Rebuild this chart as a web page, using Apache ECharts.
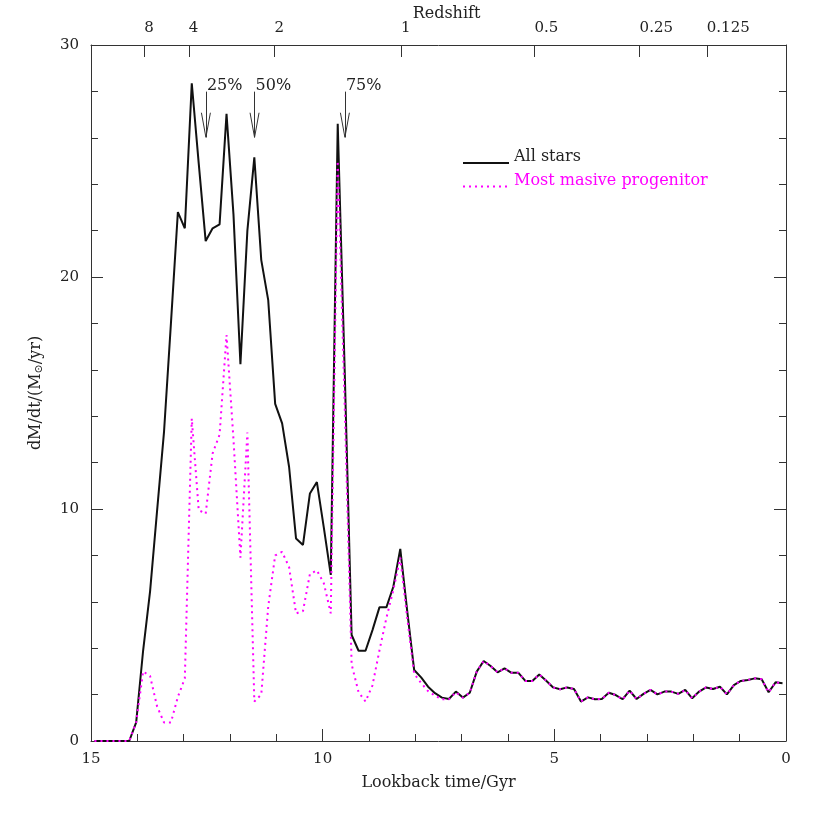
<!DOCTYPE html>
<html>
<head>
<meta charset="utf-8">
<script src="https://cdn.jsdelivr.net/npm/echarts@6/dist/echarts.min.js"></script>
<style>
html, body { margin: 0; padding: 0; background: #fff; }
#main { width: 830px; height: 830px; }
</style>
</head>
<body>
<div id="main"></div>
<script>
// lookback time of each sample (Gyr)
var times = [
    14.925, 14.775, 14.625, 14.475, 14.325, 14.175, 14.025, 13.875, 13.725, 13.575,
    13.425, 13.275, 13.125, 12.975, 12.825, 12.675, 12.525, 12.375, 12.225, 12.075,
    11.925, 11.775, 11.625, 11.475, 11.325, 11.175, 11.025, 10.875, 10.725, 10.575,
    10.425, 10.275, 10.125, 9.975, 9.825, 9.675, 9.525, 9.375, 9.225, 9.075,
    8.925, 8.775, 8.625, 8.475, 8.325, 8.175, 8.025, 7.875, 7.725, 7.575,
    7.425, 7.275, 7.125, 6.975, 6.825, 6.675, 6.525, 6.375, 6.225, 6.075,
    5.925, 5.775, 5.625, 5.475, 5.325, 5.175, 5.025, 4.875, 4.725, 4.575,
    4.425, 4.275, 4.125, 3.975, 3.825, 3.675, 3.525, 3.375, 3.225, 3.075,
    2.925, 2.775, 2.625, 2.475, 2.325, 2.175, 2.025, 1.875, 1.725, 1.575,
    1.425, 1.275, 1.125, 0.975, 0.825, 0.675, 0.525, 0.375, 0.225, 0.075
];

var allStars = [
    0, 0, 0, 0, 0, 0, 0.8, 3.9, 6.45, 9.9,
    13.3, 18.0, 22.8, 22.1, 28.35, 24.9, 21.55, 22.1, 22.27, 27.03,
    22.7, 16.24, 22.0, 25.16, 20.73, 19.0, 14.53, 13.69, 11.82, 8.73,
    8.45, 10.67, 11.16, 9.2, 7.16, 26.6, 16.0, 4.57, 3.89, 3.89,
    4.78, 5.76, 5.76, 6.65, 8.28, 5.6, 3.06, 2.74, 2.34, 2.06,
    1.87, 1.81, 2.13, 1.87, 2.08, 2.99, 3.45, 3.23, 2.96, 3.13,
    2.94, 2.94, 2.59, 2.59, 2.87, 2.6, 2.31, 2.23, 2.31, 2.24,
    1.70, 1.88, 1.80, 1.81, 2.08, 1.98, 1.80, 2.17, 1.81, 2.03,
    2.20, 2.01, 2.13, 2.13, 2.03, 2.20, 1.84, 2.13, 2.31, 2.24,
    2.34, 2.01, 2.41, 2.59, 2.63, 2.70, 2.66, 2.10, 2.53, 2.49
];

var mainProgenitor = [
    0, 0, 0, 0, 0, 0, 0.8, 3.0, 2.8, 1.5,
    0.8, 0.8, 1.9, 2.7, 13.9, 9.95, 9.8, 12.4, 13.2, 17.5,
    13.0, 7.9, 13.3, 1.7, 2.0, 5.8, 8.0, 8.15, 7.5, 5.5,
    5.6, 7.2, 7.35, 6.8, 5.5, 25.0, 14.5, 3.3, 2.1, 1.7,
    2.4, 3.9, 5.3, 6.5, 7.9, 5.3, 2.9, 2.5, 2.15, 1.95,
    1.8, 1.8, 2.1, 1.87, 2.08, 2.99, 3.45, 3.23, 2.96, 3.13,
    2.94, 2.94, 2.59, 2.59, 2.87, 2.6, 2.31, 2.23, 2.31, 2.24,
    1.70, 1.88, 1.80, 1.81, 2.08, 1.98, 1.80, 2.17, 1.81, 2.03,
    2.20, 2.01, 2.13, 2.13, 2.03, 2.20, 1.84, 2.13, 2.31, 2.24,
    2.34, 2.01, 2.41, 2.59, 2.63, 2.70, 2.66, 2.10, 2.53, 2.49
];

// redshift ticks on the top axis, placed at their lookback time
var redshiftLabels = ['8', '4', '2', '1', '0.5', '0.25', '0.125'];
var redshiftTimes = [13.85, 12.89, 11.04, 8.31, 5.43, 3.16, 1.71];

// times where 25/50/75% of the mass had formed
var arrowLabels = ['25%', '50%', '75%'];
var arrowTimes = [12.52, 11.47, 9.52];
var arrowTop = 27.99, arrowTip = 26.02, arrowHeadTop = 27.08, arrowHeadHalf = 0.097;

var FONT = 'DejaVu Serif';
var INK = '#222';

function pairs(ys) {
    return times.map(function (t, i) { return [t, ys[i]]; });
}

var arrowLines = [];
var arrowPoints = [];
arrowTimes.forEach(function (t, i) {
    arrowLines.push([{ coord: [t, arrowTop] }, { coord: [t, arrowTip] }]);
    arrowLines.push([{ coord: [t + arrowHeadHalf, arrowHeadTop] }, { coord: [t, arrowTip] }]);
    arrowLines.push([{ coord: [t - arrowHeadHalf, arrowHeadTop] }, { coord: [t, arrowTip] }]);
    arrowPoints.push({ coord: [t, arrowTop], value: arrowLabels[i] });
});

var tickCommon = { inside: true, length: 12, lineStyle: { color: '#333', width: 1 } };
var minorCommon = { show: true, splitNumber: 5, length: 7, lineStyle: { color: '#333', width: 1 } };
var lineCommon = { show: true, onZero: false, lineStyle: { color: '#333', width: 1 } };
var labelCommon = { color: INK, fontFamily: FONT, fontSize: 15 };

var myChart = echarts.init(document.getElementById('main'), null, { renderer: 'canvas' });

myChart.setOption({
    animation: false,
    backgroundColor: '#fff',
    grid: {
        left: 91, right: 44, top: 45, bottom: 89,
        outerBoundsMode: 'none'
    },
    legend: {
        orient: 'vertical',
        left: 462,
        top: 149,
        padding: 0,
        itemWidth: 46,
        itemHeight: 14,
        itemGap: 4,
        selectedMode: false,
        itemStyle: { opacity: 0 },
        formatter: function (name) { return '{t|' + name + '}'; },
        textStyle: {
            fontFamily: FONT, fontSize: 16, color: INK,
            rich: { t: { fontFamily: FONT, fontSize: 16, padding: [0, 0, 12, 0] } }
        },
        data: [
            { name: 'All stars', textStyle: { color: INK } },
            { name: 'Most masive progenitor', textStyle: { color: '#ff00ff' } }
        ]
    },
    xAxis: [{
        type: 'value',
        min: 0, max: 15, interval: 5,
        inverse: true,
        name: 'Lookback time/Gyr',
        nameLocation: 'middle',
        nameGap: 34,
        nameTextStyle: { color: INK, fontFamily: FONT, fontSize: 16 },
        axisLine: lineCommon,
        axisTick: tickCommon,
        minorTick: minorCommon,
        axisLabel: Object.assign({ margin: 11 }, labelCommon),
        splitLine: { show: false }
    }, {
        type: 'value',
        position: 'top',
        min: 0, max: 15,
        inverse: true,
        name: 'Redshift',
        nameLocation: 'middle',
        nameGap: 23,
        nameMoveOverlap: false,
        nameTextStyle: { color: INK, fontFamily: FONT, fontSize: 16, padding: [0, 0, 0, 16] },
        axisLine: lineCommon,
        axisTick: Object.assign({ customValues: redshiftTimes }, tickCommon),
        axisLabel: Object.assign({
            customValues: redshiftTimes,
            align: 'left',
            margin: 9,
            formatter: function (v) {
                var i = redshiftTimes.indexOf(v);
                return i >= 0 ? redshiftLabels[i] : '';
            }
        }, labelCommon),
        splitLine: { show: false }
    }],
    yAxis: [{
        type: 'value',
        min: 0, max: 30, interval: 10,
        name: 'dM/dt/(M{sub|⊙}/yr)',
        nameLocation: 'middle',
        nameGap: 47,
        nameRotate: 90,
        nameTextStyle: {
            color: INK, fontFamily: FONT, fontSize: 16,
            rich: {
                sub: { fontFamily: FONT, fontSize: 11, color: INK, padding: [0, 0, -6, 0] }
            }
        },
        axisLine: lineCommon,
        axisTick: tickCommon,
        minorTick: minorCommon,
        axisLabel: Object.assign({ margin: 12 }, labelCommon),
        splitLine: { show: false }
    }, {
        type: 'value',
        position: 'right',
        min: 0, max: 30, interval: 10,
        axisLine: lineCommon,
        axisTick: tickCommon,
        minorTick: minorCommon,
        axisLabel: { show: false },
        splitLine: { show: false }
    }],
    series: [{
        name: 'All stars',
        type: 'line',
        data: pairs(allStars),
        symbol: 'none',
        lineStyle: { color: '#111', width: 2 },
        itemStyle: { color: '#111' },
        z: 3,
        markLine: {
            silent: true,
            symbol: ['none', 'none'],
            label: { show: false },
            lineStyle: { color: '#333', width: 1, type: 'solid' },
            emphasis: { disabled: true },
            data: arrowLines
        },
        markPoint: {
            silent: true,
            symbolSize: 0,
            label: {
                show: true,
                position: 'right',
                distance: 0,
                offset: [1, -6],
                formatter: '{c}',
                color: INK,
                fontFamily: FONT,
                fontSize: 16
            },
            data: arrowPoints
        }
    }, {
        name: 'Most masive progenitor',
        type: 'line',
        data: pairs(mainProgenitor),
        symbol: 'none',
        lineStyle: { color: '#ff00ff', width: 2, type: [2, 4] },
        itemStyle: { color: '#ff00ff' },
        z: 4
    }]
});
</script>
</body>
</html>
